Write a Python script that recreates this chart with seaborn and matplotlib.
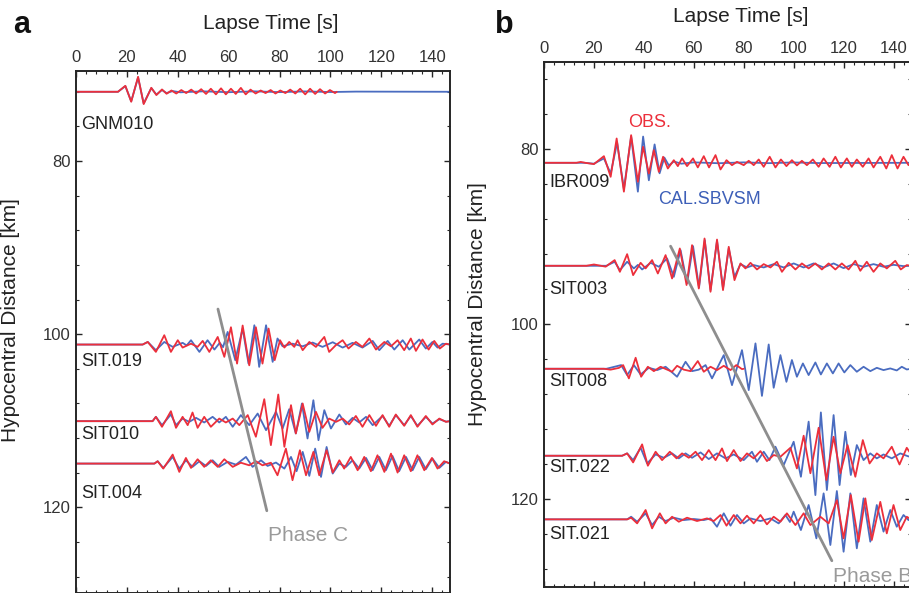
import matplotlib
matplotlib.use("Agg")
import matplotlib.pyplot as plt
from matplotlib.ticker import MultipleLocator, FixedLocator
import pandas as pd
import seaborn as sns

# ---------------- data (time [s], amplitude [km offset, + is up]) ----------------
STATIONS_A = ["GNM010", "SIT.019", "SIT010", "SIT.004"]
BASE_A = [72.0, 101.2, 110.05, 114.95]
LABEL_Y_A = [75.8, 103.2, 111.6, 118.35]

STATIONS_B = ["IBR009", "SIT003", "SIT008", "SIT.022", "SIT.021"]
BASE_B = [81.57, 93.34, 105.11, 115.05, 122.32]
LABEL_Y_B = [83.85, 96.0, 106.6, 116.45, 124.1]

GNM010_OBS = [(0,0),(16.5,0),(19.4,0.69),(21.7,-1.15),(24.4,1.73),(26.6,-1.42),(29.6,0.46),(31.6,-0.38),(33.8,0.27),(35.6,-0.23),(37.5,0.15),(39.4,-0.2),(41.4,0.2),(43.3,-0.15),(45.3,0.25),(47.2,-0.2),(49.2,0.3),(51.1,-0.25),(53.0,0.35),(55.0,-0.3),(57.0,0.4),(58.9,-0.3),(60.9,0.35),(62.8,-0.25),(64.8,0.45),(66.7,-0.3),(68.6,0.25),(70.6,-0.2),(72.6,0.15),(74.5,-0.15),(76.5,0.2),(78.4,-0.2),(80.3,0.15),(82.3,-0.15),(84.2,0.25),(86.2,-0.2),(88.1,0.35),(90.1,-0.3),(92.0,0.35),(94.0,-0.25),(95.9,0.3),(97.9,-0.2),(99.8,0.2),(101.8,-0.15),(102.5,0)]
GNM010_CAL = [(0,0),(16.5,0),(19.4,0.65),(21.7,-1.1),(24.4,1.65),(26.6,-1.35),(29.6,0.42),(31.6,-0.32),(33.8,0.2),(35.6,-0.15),(38,0.08),(41,-0.06),(50,0.05),(60,-0.05),(70,0.05),(80,-0.04),(90,0.04),(100,-0.03),(110,0.02),(147,0)]

SIT019_OBS = [(0,0),(26.2,0),(28.2,0.3),(31.4,-0.85),(34.7,1.08),(37.3,-0.85),(40.0,0.5),(41.9,-0.35),(45.2,0.1),(47.8,-0.27),(49.8,0.42),(52.4,-0.85),(55.7,0.88),(58.3,-1.42),(60.9,2.0),(63.3,-2.2),(65.5,2.2),(68.1,-2.4),(70.7,2.0),(73.3,-2.2),(75.7,1.85),(78.1,-1.8),(80.2,0.5),(81.9,-0.35),(83.8,0.3),(85.8,-0.27),(87.1,0.5),(89.1,-0.65),(91.7,0.3),(94.3,-0.27),(97.6,0.88),(99.5,-0.85),(102.2,-0.05),(104.8,0.5),(107.1,-0.46),(110.0,0.3),(112.6,-0.27),(115.3,0.7),(117.9,-0.58),(121.2,0.3),(123.8,-0.2),(126.4,0.5),(129.0,-0.65),(131.6,0.7),(133.6,-0.73),(136.2,0.58),(138.6,-0.58),(140.8,0.42),(143.0,-0.46),(145.4,0.1),(147,0)]
SIT019_CAL = [(0,0),(26.2,0),(28.2,0.3),(31.4,-0.65),(34.7,0.3),(38.0,-0.27),(41.9,0.2),(43.5,-0.1),(45.2,0.5),(48.5,-0.85),(51.7,0.5),(54.4,-0.58),(56.5,0.2),(57.8,-0.3),(59.6,1.46),(62.6,-1.8),(65.5,1.85),(67.8,-2.2),(70.1,2.23),(72.0,-2.58),(74.7,2.23),(77.3,-2.0),(79.2,0.7),(81.2,-0.2),(85.1,0.1),(89.1,-0.2),(93.0,0.23),(96.9,-0.27),(100.9,0.27),(104.8,-0.35),(108.7,0.2),(112.6,-0.35),(116.6,0.42),(119.2,-0.65),(122.5,0.42),(125.1,-0.58),(128.4,0.5),(131.0,-0.58),(134.9,0.58),(137.5,-0.46),(140.1,0.3),(142.1,-0.35),(144.1,0.1),(147,0)]

SIT010_OBS = [(0,0),(30.1,0),(31.4,0.5),(33.8,-0.65),(37.3,1.15),(39.3,-0.77),(41.9,0.5),(43.9,-0.46),(45.8,1.0),(47.8,-0.77),(50.4,0.5),(53.0,-0.65),(56.3,0.3),(58.9,-0.15),(61.6,0.3),(64.2,-0.46),(67.5,0.7),(70.7,-1.8),(74.0,2.54),(76.6,-2.77),(79.5,3.08),(81.9,-2.96),(84.5,1.85),(86.4,-1.42),(89.1,2.04),(91.7,-1.23),(94.3,1.08),(96.9,-0.77),(99.5,0.3),(102.2,-0.08),(104.8,0.3),(107.4,-0.38),(110.0,0.6),(112.6,-0.65),(115.3,0.7),(117.9,-0.54),(120.5,0.7),(123.1,-0.65),(125.7,0.77),(129.0,-0.54),(131.6,0.7),(134.2,-0.65),(137.5,0.6),(140.1,-0.38),(142.8,0.3),(145.4,-0.08),(147,0)]
SIT010_CAL = [(0,0),(30.1,0),(31.4,0.5),(33.8,-0.46),(37.3,0.77),(39.3,-0.46),(41.9,0.3),(44.5,-0.08),(47.2,0.38),(50.4,-0.15),(53.7,0.5),(56.3,-0.15),(58.9,0.5),(61.6,-0.65),(64.8,0.7),(68.1,-0.46),(71.4,0.88),(74.7,-1.04),(78.6,1.08),(81.2,-0.85),(83.8,1.38),(86.4,-1.42),(88.8,2.04),(91.0,-2.0),(93.3,2.42),(95.3,-2.2),(97.6,1.27),(100.2,-0.85),(103.5,0.77),(106.1,-0.38),(108.7,0.38),(111.3,-0.15),(114.0,0.5),(116.6,-0.46),(120.5,0.6),(123.1,-0.54),(125.7,0.7),(129.0,-0.46),(131.6,0.6),(134.2,-0.54),(137.5,0.5),(140.1,-0.27),(142.8,0.23),(145.4,-0.05),(147,0)]

SIT004_OBS = [(0,0),(30.8,0),(32.1,0.27),(34.3,-0.58),(38.0,1.04),(40.6,-0.96),(43.2,0.65),(45.2,-0.5),(47.8,0.5),(50.4,-0.38),(53.0,0.38),(55.7,-0.38),(58.3,0.5),(61.6,-0.38),(64.8,0.1),(68.1,-0.2),(70.7,0.27),(73.3,-0.2),(76.6,0.1),(79.2,-1.35),(82.5,1.73),(85.1,-1.92),(88.0,1.54),(90.4,-1.35),(93.3,1.35),(95.6,-1.35),(98.5,1.54),(100.9,-1.04),(103.5,0.38),(105.4,-0.58),(108.0,0.77),(110.7,-0.77),(113.3,0.77),(115.9,-0.88),(118.5,0.96),(121.2,-0.96),(123.8,1.15),(126.4,-1.04),(129.0,0.96),(131.6,-0.88),(134.2,0.96),(136.9,-0.77),(139.9,0.65),(142.1,-0.58),(144.7,0.27),(147,0)]
SIT004_CAL = [(0,0),(30.8,0),(32.1,0.27),(34.3,-0.5),(38.0,0.77),(40.6,-0.58),(43.2,0.38),(45.8,-0.38),(48.5,0.27),(51.1,-0.27),(53.7,0.38),(56.3,-0.38),(59.6,0.2),(62.9,-0.12),(66.8,0.77),(69.4,-0.38),(72.7,0.38),(75.3,-0.27),(78.6,0.12),(81.9,-0.58),(84.5,0.77),(86.7,-0.88),(89.1,1.35),(91.7,-1.42),(94.0,1.73),(96.3,-1.54),(98.5,1.92),(100.9,-1.15),(103.5,0.0),(106.1,-0.38),(108.7,0.38),(111.3,-0.58),(114.0,0.65),(116.6,-0.77),(119.2,0.77),(121.8,-0.77),(124.4,0.88),(127.0,-0.88),(129.7,0.77),(132.3,-0.77),(134.9,0.77),(137.5,-0.65),(140.1,0.58),(142.8,-0.5),(145.4,0.2),(147,0)]

IBR009_OBS = [(0,0),(13,0),(14.7,0.1),(16.5,0),(20.0,-0.15),(24.0,0.76),(26.7,-1.6),(29.1,2.78),(32.0,-3.3),(34.9,3.16),(37.6,-2.17),(39.7,1.83),(42.0,-1.22),(44.0,1.45),(46.0,-1.03),(47.7,0.69),(49.6,-0.65),(52.0,0.3),(53.6,-0.38),(55.3,0.5),(57.3,-0.38),(59.7,0.5),(61.6,-0.53),(64.0,0.76),(66.1,-0.53),(68.7,0.88),(70.7,-0.76),(73.1,0.3),(75.3,-0.27),(77.3,0.11),(80.0,-0.27),(82.0,0.23),(84.0,-0.27),(86.0,0.38),(88.0,-0.46),(90.4,0.69),(92.7,-0.53),(94.9,0.38),(97.1,-0.38),(99.3,0.3),(101.3,-0.3),(103.3,0.23),(105.3,-0.27),(107.7,0.38),(110.0,-0.46),(112.0,0.5),(114.4,-0.46),(116.7,0.69),(118.9,-0.53),(121.3,0.5),(123.3,-0.46),(125.3,0.38),(127.7,-0.46),(130.0,0.5),(132.0,-0.53),(134.7,0.69),(137.1,-0.65),(139.3,0.88),(141.6,-0.65),(144.0,0.69),(146.0,-0.27),(147,0)]
IBR009_CAL = [(0,0),(16,0),(20.0,-0.1),(24.0,0.5),(26.7,-1.22),(29.3,2.3),(32.0,-3.0),(34.9,3.0),(37.6,-3.3),(39.7,3.0),(42.0,-2.0),(44.3,2.1),(46.3,-1.2),(48.2,0.6),(50.0,-0.3),(52.0,0.15),(55.0,-0.1),(60,0.05),(70,-0.05),(80,0.05),(90,-0.04),(100,0.04),(110,-0.03),(147,0)]

SIT003_OBS = [(0,0),(17,0),(20.0,0.15),(24.7,-0.1),(28.3,0.65),(30.4,-0.69),(33.3,1.33),(35.7,-1.07),(38.7,0.34),(40.7,-0.3),(43.3,0.65),(45.6,-0.88),(48.7,1.22),(51.3,-1.45),(54.4,1.98),(57.1,-2.2),(59.3,2.36),(62.0,-2.6),(64.3,3.12),(66.7,-2.97),(69.3,3.0),(71.7,-2.78),(74.0,2.17),(76.3,-1.64),(78.7,0.27),(80.7,-0.3),(82.7,0.34),(85.3,-0.42),(88.0,0.19),(90.7,-0.19),(93.3,0.46),(95.3,-0.69),(98.0,0.34),(100.7,-0.42),(103.3,0.27),(106.0,-0.3),(108.7,0.27),(111.3,-0.42),(114.0,0.27),(116.7,-0.42),(119.3,0.27),(122.0,-0.42),(124.7,0.57),(126.7,-0.57),(129.3,0.46),(132.0,-0.69),(134.7,0.27),(137.3,-0.3),(140.7,0.57),(142.9,-0.42),(145.3,0.08),(147,0)]
SIT003_CAL = [(0,0),(25,0),(28.3,0.46),(30.4,-0.5),(33.3,0.46),(36.0,-0.3),(37.6,0.1),(39.3,-0.42),(42.7,0.34),(46.0,-0.11),(49.3,0.84),(52.0,-1.26),(54.7,1.79),(57.3,-2.0),(59.7,2.25),(62.1,-2.48),(64.4,2.93),(66.7,-2.78),(69.3,2.86),(71.7,-2.59),(74.0,1.98),(76.3,-1.26),(78.7,0.19),(81.3,-0.19),(84.0,0.08),(88.0,-0.19),(92.0,0.19),(96.0,-0.19),(100.0,0.27),(104.0,-0.19),(108.0,0.27),(112.0,-0.19),(116.0,0.27),(120.0,-0.27),(124.0,0.19),(128.0,-0.11),(132.0,0.19),(136.0,-0.11),(140.0,0.11),(144.0,-0.04),(147,0)]

SIT008_OBS = [(0,0),(24.0,0),(26.7,-0.1),(30.0,0.1),(31.7,0.42),(34.0,-1.1),(36.7,1.26),(38.9,-0.91),(41.6,0.23),(44.0,-0.27),(46.7,0.23),(51.3,-0.34),(53.3,0.34),(56.0,-0.1),(58.7,-0.27),(61.6,0.88),(64.0,-0.34),(66.7,0.23),(69.3,-0.15),(72.0,0.34),(74.7,-0.15),(77.0,0.42),(79.3,-0.04),(80,0)]
SIT008_CAL = [(0,0),(25,0),(30.9,0.42),(33.3,-0.72),(36.0,0.42),(38.7,-0.65),(42.0,0.11),(45.3,-0.15),(48.7,0.23),(53.3,-0.91),(56.7,0.8),(59.3,-0.27),(62.0,-0.1),(64.7,0.42),(67.3,-1.1),(72.0,1.56),(75.3,-1.87),(79.3,2.13),(82.0,-2.44),(84.7,2.9),(87.3,-3.1),(90.0,2.78),(92.0,-2.17),(94.7,1.56),(97.1,-1.49),(99.3,1.0),(101.3,-0.91),(103.7,0.61),(106.0,-0.72),(108.7,0.72),(110.9,-0.65),(113.3,0.61),(115.7,-0.53),(118.0,0.61),(120.3,-0.42),(122.7,0.42),(125.3,-0.34),(128.0,0.23),(130.7,-0.27),(133.3,0.11),(136.0,-0.15),(138.7,0.04),(141.3,-0.19),(143.3,0.23),(145.3,-0.08),(147,0)]

SIT022_OBS = [(0,0),(31.3,0),(33.3,0.27),(35.7,-0.76),(39.3,1.3),(41.6,-1.14),(44.7,0.46),(47.3,-0.5),(50.4,0.46),(53.1,-0.3),(55.3,0.27),(58.0,-0.23),(60.7,0.46),(63.3,-0.5),(66.0,0.65),(68.7,-0.5),(71.3,0.84),(73.3,-0.61),(76.0,0.65),(78.7,-0.61),(81.3,0.27),(84.0,-0.3),(86.7,0.53),(89.3,-0.61),(92.0,0.08),(94.7,-0.11),(98.7,0.91),(101.3,-1.45),(104.0,2.29),(106.7,-2.0),(110.0,3.2),(113.1,-2.78),(116.0,2.17),(118.7,-2.0),(121.6,1.22),(124.7,-2.4),(127.7,1.79),(130.4,-0.88),(133.3,0.27),(136.0,-0.3),(139.3,1.03),(142.4,-1.0),(145.3,0.91),(147,0.2)]
SIT022_CAL = [(0,0),(31.3,0),(33.3,0.27),(35.7,-0.5),(38.7,0.91),(41.3,-0.88),(44.7,0.15),(48.0,-0.23),(51.3,0.27),(54.0,-0.3),(56.7,0.27),(59.3,-0.23),(62.7,0.38),(66.0,-0.38),(69.3,0.27),(72.7,-0.3),(76.0,0.15),(80.0,-0.5),(83.3,0.46),(85.3,-0.69),(88.0,0.46),(90.3,-0.5),(92.7,1.03),(96.0,-1.07),(100.0,1.6),(102.9,-2.4),(106.0,3.9),(108.7,-4.5),(110.9,4.95),(113.3,-3.92),(116.0,4.65),(118.4,-3.35),(120.7,2.74),(122.9,-2.2),(125.3,1.22),(128.0,-0.5),(130.7,0.27),(133.3,-0.3),(136.0,0.15),(139.3,-0.3),(142.7,0.27),(146.0,-0.08),(147,0)]

SIT021_OBS = [(0,0),(33.3,0),(34.9,0.19),(37.3,-0.46),(40.7,1.07),(43.3,-1.03),(46.4,0.69),(48.7,-0.46),(51.3,0.3),(54.0,-0.27),(57.3,0.19),(61.3,-0.19),(65.3,0.11),(68.0,-0.19),(70.7,0.5),(73.1,-0.72),(76.0,0.5),(78.7,-0.46),(81.3,0.42),(84.0,-0.46),(86.7,0.5),(89.3,-0.57),(92.0,0.3),(94.7,-0.27),(97.3,0.69),(100.7,-0.65),(104.0,0.69),(106.7,-0.65),(110.7,0.3),(114.0,-0.46),(117.3,2.2),(120.0,-2.17),(122.9,2.78),(126.0,-2.55),(128.7,2.4),(131.3,-2.36),(134.7,2.0),(137.3,-1.6),(140.0,1.64),(142.7,-1.22),(145.3,0.3),(147,0)]
SIT021_CAL = [(0,0),(33.3,0),(34.9,0.3),(37.3,-0.27),(40.7,0.69),(43.3,-0.65),(46.0,0.3),(48.7,-0.19),(52.0,0.19),(56.0,-0.08),(60.0,0.04),(64.0,-0.08),(66.7,0.11),(69.3,-0.84),(72.0,0.69),(74.7,-0.72),(77.3,0.5),(80.0,-0.46),(82.7,0.11),(86.7,-0.19),(90.7,0.11),(94.0,-0.46),(96.7,0.5),(98.5,-0.3),(100.0,0.88),(102.9,-1.22),(106.0,1.64),(109.1,-2.17),(112.0,2.97),(114.7,-2.93),(117.3,3.24),(120.0,-3.7),(122.7,2.97),(125.3,-3.31),(128.0,2.4),(130.7,-2.55),(133.3,1.64),(136.0,-1.4),(138.7,1.07),(141.3,-0.84),(144.0,0.5),(146.0,-0.08),(147,0)]

TRACES = {
    ("GNM010", "OBS"): GNM010_OBS, ("GNM010", "CAL"): GNM010_CAL,
    ("SIT.019", "OBS"): SIT019_OBS, ("SIT.019", "CAL"): SIT019_CAL,
    ("SIT010", "OBS"): SIT010_OBS, ("SIT010", "CAL"): SIT010_CAL,
    ("SIT.004", "OBS"): SIT004_OBS, ("SIT.004", "CAL"): SIT004_CAL,
    ("IBR009", "OBS"): IBR009_OBS, ("IBR009", "CAL"): IBR009_CAL,
    ("SIT003", "OBS"): SIT003_OBS, ("SIT003", "CAL"): SIT003_CAL,
    ("SIT008", "OBS"): SIT008_OBS, ("SIT008", "CAL"): SIT008_CAL,
    ("SIT.022", "OBS"): SIT022_OBS, ("SIT.022", "CAL"): SIT022_CAL,
    ("SIT.021", "OBS"): SIT021_OBS, ("SIT.021", "CAL"): SIT021_CAL,
}

PHASE_C_T = [55.8, 75.0]
PHASE_C_D = [97.1, 120.4]
PHASE_B_T = [50.7, 115.3]
PHASE_B_D = [91.1, 127.05]

X_TICKS = [0, 20, 40, 60, 80, 100, 120, 140]
Y_TICKS = [80, 100, 120]

RED = "#ec2f3b"
BLUE = "#4a6cc0"
GRAY = "#8e8e8e"
DARK = "#262626"


def build_frame(stations, bases):
    rows = []
    for name, base in zip(stations, bases):
        for series in ("CAL", "OBS"):
            for t, a in TRACES[(name, series)]:
                rows.append({"station": name, "series": series, "t": t, "dist": base - a})
    return pd.DataFrame(rows)


df_a = build_frame(STATIONS_A, BASE_A)
df_b = build_frame(STATIONS_B, BASE_B)

sns.set_style("ticks")
plt.rcParams["font.family"] = ["Liberation Sans", "DejaVu Sans"]

W, H = 909, 593
fig = plt.figure(figsize=(W / 100, H / 100), dpi=100)
axA = fig.add_axes([76 / W, 0 / H, 374 / W, 522 / H])
axB = fig.add_axes([544 / W, 6 / H, 367 / W, 525 / H])

for ax, df in ((axA, df_a), (axB, df_b)):
    sns.lineplot(data=df, x="t", y="dist", hue="series", hue_order=["CAL", "OBS"],
                 units="station", estimator=None, sort=False,
                 palette={"CAL": BLUE, "OBS": RED}, lw=1.3, legend=False, ax=ax,
                 solid_joinstyle="round")

sns.lineplot(x=PHASE_C_T, y=PHASE_C_D, color=GRAY, lw=2.0, ax=axA, sort=False)
sns.lineplot(x=PHASE_B_T, y=PHASE_B_D, color=GRAY, lw=2.0, ax=axB, sort=False)

axA.set_xlim(0, 147)
axA.set_ylim(129.9, 69.6)
axB.set_xlim(0, 147)
axB.set_ylim(130.05, 70.05)

for ax in (axA, axB):
    ax.xaxis.set_major_locator(FixedLocator(X_TICKS))
    ax.xaxis.set_minor_locator(MultipleLocator(4))
    ax.yaxis.set_major_locator(FixedLocator(Y_TICKS))
    ax.yaxis.set_minor_locator(MultipleLocator(4))
    ax.xaxis.set_label_position("top")
    ax.tick_params(which="both", direction="in", top=True, bottom=True, left=True, right=True,
                   labeltop=True, labelbottom=False, colors=DARK, labelcolor="#333333")
    ax.tick_params(which="major", length=4, width=1.0, labelsize=12, pad=4)
    ax.tick_params(which="minor", length=2, width=0.8)
    for sp in ax.spines.values():
        sp.set_visible(True)
        sp.set_color(DARK)
        sp.set_linewidth(1.4)
    ax.set_xlabel("Lapse Time [s]", fontsize=15, color="#222222")
    ax.set_ylabel("Hypocentral Distance [km]", fontsize=15, color="#222222")

axA.xaxis.set_label_coords(0.521, 1.080)
axA.yaxis.set_label_coords(-0.150, 0.523)
axB.xaxis.set_label_coords(0.537, 1.076)
axB.yaxis.set_label_coords(-0.155, 0.538)

for name, ly in zip(STATIONS_A, LABEL_Y_A):
    axA.text(2.2, ly, name, fontsize=13, color="#222222", va="center", ha="left")
for name, ly in zip(STATIONS_B, LABEL_Y_B):
    axB.text(2.1, ly, name, fontsize=13, color="#222222", va="center", ha="left")

axA.text(75.4, 123.2, "Phase C", fontsize=15, color="#9a9a9a", va="center", ha="left")
axB.text(115.6, 128.9, "Phase B", fontsize=15, color="#9a9a9a", va="center", ha="left",
         clip_on=False)
axB.text(42.4, 77.0, "OBS.", fontsize=13, color=RED, va="center", ha="center")
axB.text(66.4, 85.8, "CAL.SBVSM", fontsize=13, color="#3d5fb8", va="center", ha="center")

fig.text(13 / W, 1 - 33 / H, "a", fontsize=22, fontweight="bold", color="#111111",
         ha="left", va="baseline")
fig.text(495 / W, 1 - 33 / H, "b", fontsize=22, fontweight="bold", color="#111111",
         ha="left", va="baseline")

fig.savefig("out.png", dpi=100)
